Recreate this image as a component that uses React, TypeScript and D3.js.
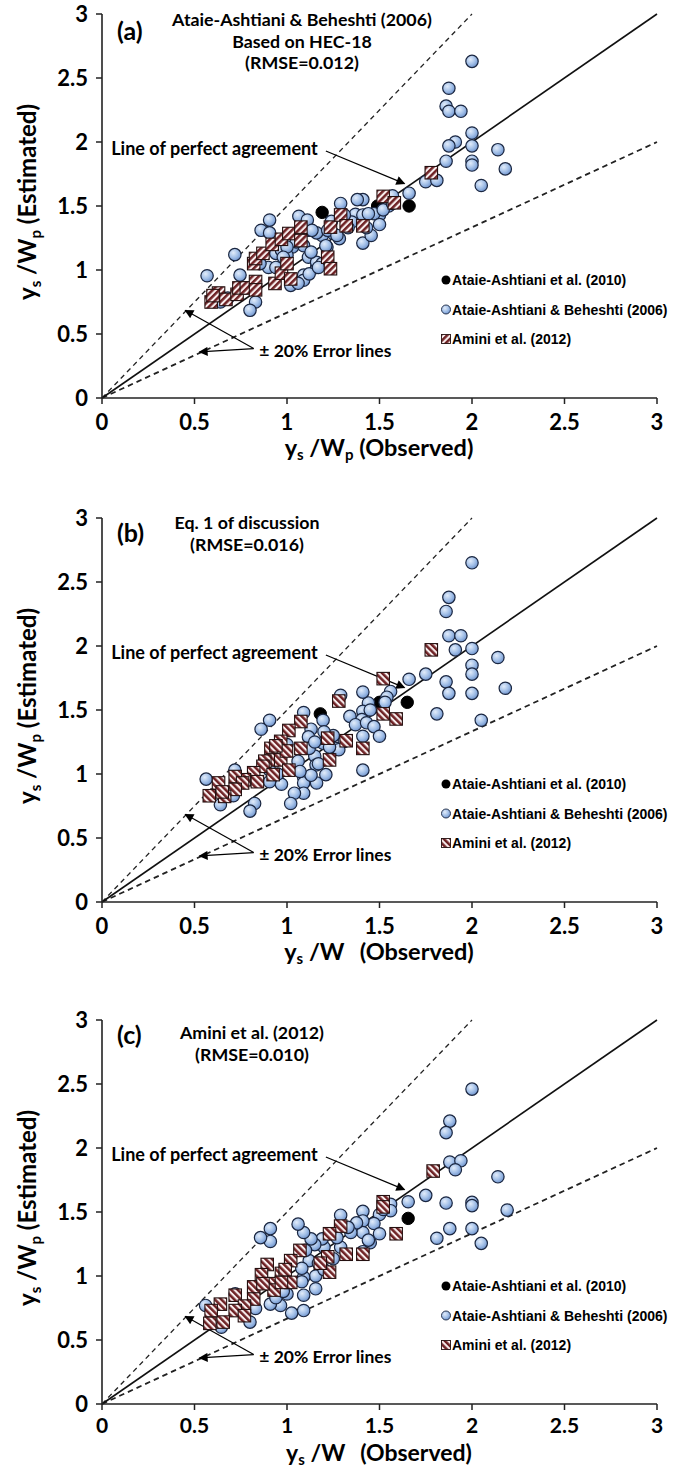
import { scaleLinear, line } from 'd3'

type Pt = [number, number]

// axis ticks (same for x and y)
const axisTicks = [0, 0.5, 1, 1.5, 2, 2.5, 3]
const legendLabels = ['Ataie-Ashtiani et al. (2010)', 'Ataie-Ashtiani & Beheshti (2006)', 'Amini et al. (2012)']

// reference lines: perfect agreement and the two error lines
const perfectLine: Pt[] = [[0, 0], [3, 3]]
const upperLine: Pt[] = [[0, 0], [2, 3]]
const lowerLine: Pt[] = [[0, 0], [3, 2]]

// ---------- panel (a) ----------
const aTitle = ['Ataie-Ashtiani & Beheshti (2006)', 'Based on HEC-18', '(RMSE=0.012)']
const aBlack: Pt[] = [[1.19, 1.45], [1.49, 1.5], [1.66, 1.5]]
const aBlue: Pt[] = [
  [2.0, 2.63], [1.875, 2.42], [1.86, 2.28], [1.875, 2.24], [1.94, 2.24], [1.91, 2.0], [1.875, 1.97],
  [2.0, 2.07], [2.0, 1.97], [2.14, 1.94], [1.86, 1.85], [2.0, 1.85], [2.0, 1.82], [2.18, 1.79],
  [2.05, 1.66], [1.75, 1.69], [1.81, 1.7], [1.66, 1.6], [1.57, 1.58], [1.55, 1.5], [1.5, 1.43],
  [1.47, 1.44], [1.41, 1.55], [1.29, 1.52], [1.41, 1.21], [1.455, 1.27], [1.5, 1.355], [1.37, 1.435],
  [1.35, 1.375], [1.41, 1.43], [1.44, 1.44], [1.43, 1.33], [1.283, 1.245], [1.25, 1.285], [1.216, 1.18],
  [1.19, 1.27], [1.16, 1.29], [1.116, 1.31], [1.064, 1.42], [1.11, 1.39], [1.09, 1.19], [1.116, 1.1],
  [1.16, 1.02], [1.16, 1.06], [1.09, 0.96], [1.09, 0.92], [1.02, 0.88], [1.03, 1.18], [1.0, 1.115],
  [0.906, 1.39], [0.86, 1.31], [0.906, 1.29], [0.94, 1.13], [0.9, 1.02], [0.854, 1.05], [0.718, 1.12],
  [0.746, 0.96], [0.568, 0.955], [0.83, 0.75], [0.8, 0.685], [0.64, 0.75], [0.94, 1.02], [0.97, 1.155],
  [1.135, 1.31], [1.22, 1.31], [1.27, 1.27], [1.38, 1.55], [1.06, 0.896], [1.12, 0.97], [1.19, 1.05],
  [1.17, 1.02], [1.21, 1.19], [1.13, 1.14], [1.05, 1.22], [1.0, 1.18], [0.98, 1.1], [0.78, 0.86],
  [0.68, 0.78], [0.62, 0.8], [1.31, 1.43], [1.33, 1.33], [1.24, 1.38], [1.52, 1.47], [1.57, 1.52],
]
const aSquare: Pt[] = [
  [0.59, 0.75], [0.63, 0.82], [0.67, 0.77], [0.73, 0.81], [0.74, 0.86], [0.78, 0.86], [0.83, 0.91],
  [0.83, 0.845], [0.82, 1.05], [0.83, 1.09], [0.87, 1.13], [0.92, 1.2], [0.97, 1.24], [1.01, 1.285],
  [1.075, 1.335], [1.075, 1.23], [0.935, 0.895], [0.97, 0.975], [1.0, 1.05], [1.02, 0.93], [1.22, 1.1],
  [1.235, 1.01], [1.235, 1.335], [1.29, 1.43], [1.32, 1.345], [1.41, 1.345], [1.52, 1.575], [1.58, 1.525],
  [1.78, 1.76], [0.6, 0.8],
]

// ---------- panel (b) ----------
const bTitle = ['Eq. 1 of discussion', '(RMSE=0.016)']
const bBlack: Pt[] = [[1.18, 1.47], [1.5, 1.56], [1.65, 1.56]]
const bBlue: Pt[] = [
  [2.0, 2.65], [1.875, 2.38], [1.86, 2.27], [1.875, 2.08], [1.94, 2.08], [1.91, 1.97], [2.0, 1.98],
  [2.0, 1.85], [2.0, 1.78], [2.0, 1.63], [1.86, 1.72], [1.875, 1.63], [2.14, 1.91], [2.18, 1.67],
  [2.05, 1.42], [1.81, 1.47], [1.75, 1.78], [1.66, 1.74], [1.56, 1.645], [1.54, 1.6], [1.44, 1.555],
  [1.41, 1.64], [1.29, 1.615], [1.41, 1.49], [1.405, 1.425], [1.34, 1.45], [1.37, 1.385], [1.43, 1.4],
  [1.47, 1.37], [1.5, 1.295], [1.41, 1.295], [1.31, 1.255], [1.26, 1.2], [1.28, 1.19], [1.195, 1.24],
  [1.195, 1.42], [1.13, 1.35], [1.09, 1.48], [1.116, 1.29], [1.15, 1.14], [1.157, 1.07], [1.21, 0.995],
  [1.16, 0.93], [1.09, 0.975], [1.09, 0.93], [1.09, 0.85], [1.04, 0.85], [1.02, 0.77], [0.97, 0.92],
  [0.906, 0.94], [0.906, 1.42], [0.86, 1.35], [1.0, 1.23], [1.41, 1.03], [0.825, 0.77], [0.8, 0.71],
  [0.64, 0.76], [0.563, 0.96], [0.718, 1.03], [0.71, 0.83], [0.906, 1.03], [1.25, 1.3], [1.2, 1.33],
  [1.12, 1.2], [1.06, 1.1], [0.95, 1.0], [1.15, 1.25], [1.45, 1.5], [1.53, 1.56], [1.13, 0.99],
  [1.17, 1.08], [1.23, 1.21], [1.07, 1.02],
]
const bSquare: Pt[] = [
  [1.78, 1.97], [1.52, 1.745], [1.52, 1.47], [1.59, 1.43], [1.28, 1.57], [1.075, 1.41], [1.41, 1.2],
  [1.32, 1.26], [1.22, 1.28], [1.23, 1.11], [1.01, 1.34], [1.075, 1.2], [0.966, 1.255], [0.913, 1.2],
  [0.92, 1.11], [0.966, 1.11], [0.997, 1.18], [1.01, 1.03], [0.88, 1.1], [0.87, 1.06], [0.82, 1.01],
  [0.77, 0.955], [0.72, 0.98], [0.76, 0.93], [0.72, 0.88], [0.663, 0.825], [0.63, 0.93], [0.58, 0.83],
  [0.925, 0.995], [0.84, 0.94], [0.65, 0.86], [0.94, 1.22],
]

// ---------- panel (c) ----------
const cTitle = ['Amini et al. (2012)', '(RMSE=0.010)']
const cBlack: Pt[] = [[1.655, 1.45]]
const cBlue: Pt[] = [
  [2.0, 2.46], [1.88, 2.21], [1.86, 2.12], [1.88, 1.89], [1.94, 1.9], [1.91, 1.83], [2.14, 1.775],
  [2.19, 1.515], [2.0, 1.575], [2.0, 1.55], [1.86, 1.57], [1.88, 1.37], [2.0, 1.37], [1.81, 1.295],
  [2.05, 1.255], [1.75, 1.63], [1.655, 1.58], [1.56, 1.56], [1.56, 1.51], [1.5, 1.48], [1.47, 1.41],
  [1.5, 1.33], [1.45, 1.26], [1.41, 1.505], [1.41, 1.43], [1.41, 1.34], [1.376, 1.415], [1.345, 1.34],
  [1.29, 1.475], [1.29, 1.225], [1.25, 1.135], [1.2, 1.225], [1.19, 1.29], [1.15, 1.245], [1.13, 1.29],
  [1.09, 1.34], [1.06, 1.405], [1.12, 1.12], [1.155, 1.0], [1.155, 0.9], [1.09, 0.99], [1.08, 1.06],
  [1.09, 0.85], [1.08, 0.955], [1.0, 0.86], [0.965, 0.77], [0.91, 0.78], [0.91, 1.37], [0.91, 1.27],
  [0.857, 1.3], [0.83, 0.746], [0.8, 0.64], [0.72, 0.86], [0.645, 0.6], [0.56, 0.77], [1.09, 0.73],
  [1.025, 0.71], [1.2, 1.05], [1.17, 1.1], [1.27, 1.3], [1.33, 1.38], [1.52, 1.52], [0.94, 0.83],
  [0.98, 0.88], [1.23, 1.33], [1.1, 1.2], [1.41, 1.19], [1.44, 1.28],
]
const cSquare: Pt[] = [
  [1.79, 1.82], [1.52, 1.58], [1.52, 1.54], [1.59, 1.33], [1.29, 1.39], [1.23, 1.33], [1.32, 1.17],
  [1.41, 1.17], [1.22, 1.15], [1.23, 1.03], [1.07, 1.2], [1.02, 1.12], [0.893, 1.09], [0.97, 1.02],
  [0.862, 1.01], [1.02, 0.95], [0.917, 0.94], [0.93, 0.89], [0.97, 0.95], [0.82, 0.915], [0.82, 0.82],
  [0.72, 0.85], [0.77, 0.765], [0.72, 0.73], [0.77, 0.69], [0.64, 0.78], [0.655, 0.64], [0.59, 0.73],
  [0.583, 0.63], [0.87, 0.94], [1.18, 1.1], [0.99, 1.05],
]

const W = 682
const H = 1469
const left = 102
const right = 657
const plotH = 384
const calibri = 'Lato, "Open Sans", sans-serif'
const arial = '"Liberation Sans", Arial, sans-serif'

const x = scaleLinear().domain([0, 3]).range([left, right])

type PanelProps = {
  top: number
  tag: string
  tagDy: number
  title: string[]
  titleX: number
  titleDy: number
  tickDy: number
  tickSize: number
  xTitleDy: number
  xTitleSize: number
  withP: boolean
  black: Pt[]
  blue: Pt[]
  square: Pt[]
  hatch: string
}

const Panel = ({ top, tag, tagDy, title, titleX, titleDy, tickDy, tickSize, xTitleDy, xTitleSize, withP, black, blue, square, hatch }: PanelProps) => {
  const y = scaleLinear().domain([0, 3]).range([top + plotH, top])
  const path = line<Pt>().x(d => x(d[0])).y(d => y(d[1]))
  const y0 = y(0)
  const r = 6.2
  const s = 12.5

  return (
    <g>
      {/* reference lines */}
      <path d={path(upperLine) || ''} stroke="#222" strokeWidth={1.3} strokeDasharray="5 4" fill="none" />
      <path d={path(lowerLine) || ''} stroke="#222" strokeWidth={1.8} strokeDasharray="5.5 4" fill="none" />
      <path d={path(perfectLine) || ''} stroke="#111" strokeWidth={1.6} fill="none" />

      {/* axes */}
      <line x1={left} x2={left} y1={top} y2={y0} stroke="#222" strokeWidth={1.6} />
      <line x1={left} x2={right} y1={y0} y2={y0} stroke="#222" strokeWidth={1.6} />
      {axisTicks.map(t => (
        <g key={'t' + t}>
          <line x1={left - 6} x2={left} y1={y(t)} y2={y(t)} stroke="#222" strokeWidth={1.5} />
          <text x={88} y={y(t)} dy="0.36em" textAnchor="end" fontFamily={calibri} fontWeight={700} fontSize={22}>{t}</text>
          <line x1={x(t)} x2={x(t)} y1={y0} y2={y0 + 6} stroke="#222" strokeWidth={1.5} />
          <text x={x(t)} y={y0 + tickDy} textAnchor="middle" fontFamily={calibri} fontWeight={700} fontSize={tickSize}>{t}</text>
        </g>
      ))}

      {/* axis titles */}
      <text x={379} y={y0 + xTitleDy} textAnchor="middle" fontFamily={calibri} fontWeight={700} fontSize={xTitleSize}>
        <tspan>y</tspan>
        <tspan fontSize={15} dy={4}>s</tspan>
        <tspan dy={-4}> /W</tspan>
        {withP ? <tspan fontSize={15} dy={4}>p</tspan> : <tspan fontSize={15} dy={4}>{'\u00a0'}</tspan>}
        <tspan dy={-4}>{withP ? ' (Observed)' : '\u00a0 (Observed)'}</tspan>
      </text>
      <text transform={`translate(36,${top + 188}) rotate(-90)`} textAnchor="middle" fontFamily={calibri} fontWeight={700} fontSize={24}>
        <tspan>y</tspan>
        <tspan fontSize={15} dy={5}>s</tspan>
        <tspan dy={-5}> /W</tspan>
        <tspan fontSize={15} dy={5}>p</tspan>
        <tspan dy={-5}> (Estimated)</tspan>
      </text>

      {/* panel tag and title */}
      <text x={117} y={top + tagDy} fontFamily={calibri} fontWeight={700} fontSize={25}>{tag}</text>
      {title.map((tl, i) => (
        <text key={tl} x={titleX} y={top + titleDy + i * 21.5} textAnchor="middle" fontFamily={calibri} fontWeight={700} fontSize={17.8}>{tl}</text>
      ))}

      {/* annotations */}
      <text x={x(0.05)} y={y(1.945)} dy="0.35em" fontFamily={calibri} fontWeight={700} fontSize={18}>Line of perfect agreement</text>
      <line x1={x(1.21)} y1={y(1.93)} x2={x(1.635)} y2={y(1.675)} stroke="#000" strokeWidth={1.2} markerEnd="url(#arr)" />
      <text x={x(0.85)} y={y(0.367)} dy="0.35em" fontFamily={calibri} fontWeight={700} fontSize={17.5}>± 20% Error lines</text>
      <line x1={x(0.82)} y1={y(0.386)} x2={x(0.45)} y2={y(0.685)} stroke="#000" strokeWidth={1.2} markerEnd="url(#arr)" />
      <line x1={x(0.82)} y1={y(0.386)} x2={x(0.527)} y2={y(0.36)} stroke="#000" strokeWidth={1.2} markerEnd="url(#arr)" />

      {/* data */}
      {black.map((d, i) => (
        <circle key={'k' + i} cx={x(d[0])} cy={y(d[1])} r={r} fill="#000" stroke="#000" />
      ))}
      {blue.map((d, i) => (
        <circle key={'b' + i} cx={x(d[0])} cy={y(d[1])} r={r} fill="url(#blueGrad)" stroke="#1a2640" strokeWidth={1.2} />
      ))}
      {square.map((d, i) => (
        <rect key={'s' + i} x={x(d[0]) - s / 2} y={y(d[1]) - s / 2} width={s} height={s} fill={`url(#${hatch})`} stroke="#241010" strokeWidth={1.1} />
      ))}

      {/* legend */}
      {legendLabels.map((lab, i) => {
        const ly = top + 266 + i * 29.5
        return (
          <g key={lab}>
            {i === 0 && <circle cx={446} cy={ly} r={4.5} fill="#000" />}
            {i === 1 && <circle cx={446} cy={ly} r={4.5} fill="url(#blueGrad)" stroke="#1a2640" strokeWidth={0.9} />}
            {i === 2 && <rect x={441.5} y={ly - 4.5} width={9} height={9} fill={`url(#${hatch})`} stroke="#241010" strokeWidth={0.9} />}
            <text x={452} y={ly} dy="0.36em" fontFamily={arial} fontWeight={700} fontSize={14}>{lab}</text>
          </g>
        )
      })}
    </g>
  )
}

export default function App() {
  return (
    <svg width={W} height={H} style={{ position: 'absolute', left: 0, top: 0, background: '#fff' }}>
      <defs>
        <radialGradient id="blueGrad" cx="38%" cy="35%" r="70%">
          <stop offset="0%" stopColor="#e2ecfa" />
          <stop offset="55%" stopColor="#a3c0e8" />
          <stop offset="100%" stopColor="#6a8fca" />
        </radialGradient>
        <pattern id="hatchA" width={4.6} height={4.6} patternUnits="userSpaceOnUse" patternTransform="rotate(45)">
          <rect width={4.6} height={4.6} fill="#f8eeee" />
          <rect width={2.5} height={4.6} fill="#6e2124" />
        </pattern>
        <pattern id="hatchB" width={4.6} height={4.6} patternUnits="userSpaceOnUse" patternTransform="rotate(-45)">
          <rect width={4.6} height={4.6} fill="#f8eeee" />
          <rect width={2.5} height={4.6} fill="#6e2124" />
        </pattern>
        <marker id="arr" viewBox="0 0 10 10" refX={9} refY={5} markerWidth={11} markerHeight={9} markerUnits="userSpaceOnUse" orient="auto">
          <path d="M0,0 L10,5 L0,10 z" fill="#000" />
        </marker>
      </defs>
      <Panel top={14} tag="(a)" tagDy={26} title={aTitle} titleX={302} titleDy={12} tickDy={32} tickSize={22} xTitleDy={58} xTitleSize={23.5} withP black={aBlack} blue={aBlue} square={aSquare} hatch="hatchA" />
      <Panel top={518} tag="(b)" tagDy={24} title={bTitle} titleX={247} titleDy={11} tickDy={32} tickSize={22} xTitleDy={58} xTitleSize={23.5} withP={false} black={bBlack} blue={bBlue} square={bSquare} hatch="hatchB" />
      <Panel top={1020} tag="(c)" tagDy={24} title={cTitle} titleX={252} titleDy={19} tickDy={29} tickSize={21} xTitleDy={57} xTitleSize={23} withP={false} black={cBlack} blue={cBlue} square={cSquare} hatch="hatchB" />
    </svg>
  )
}
